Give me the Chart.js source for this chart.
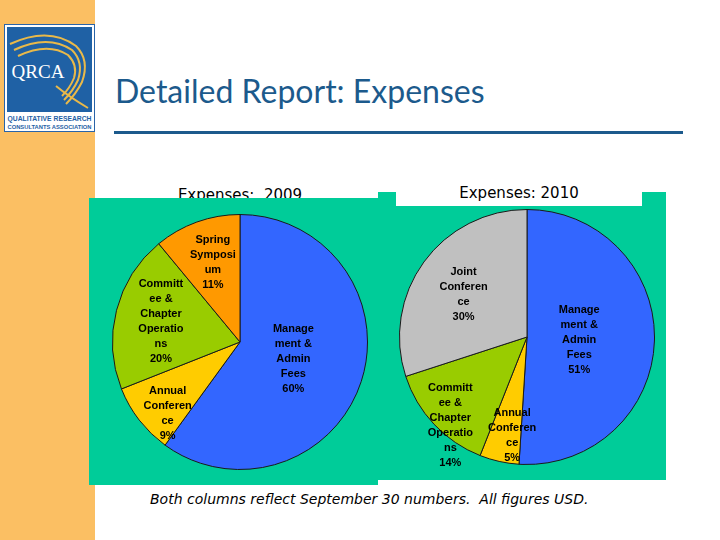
<!DOCTYPE html>
<html>
<head>
<meta charset="utf-8">
<script src="https://cdn.jsdelivr.net/npm/chart.js"></script>
<style>
  body { margin: 0; width: 720px; height: 540px; position: relative; overflow: hidden; background: #fff; font-family: "DejaVu Sans", sans-serif; }
  #strip { position: absolute; left: 0; top: 0; width: 95px; height: 540px; background: #fbbf63; }
  #logo { position: absolute; left: 4px; top: 24px; }
  #title { position: absolute; left: 115px; top: 75px; font: 32px/32px Lato, sans-serif; color: #1c5a8c; white-space: pre; }
  #rule { position: absolute; left: 114px; top: 131px; width: 569px; height: 3px; background: #1c5a8c; }
  .ptitle { position: absolute; font: 15px/15px "DejaVu Sans", sans-serif; color: #000; white-space: pre; text-align: center; width: 240px; }
  #t2009 { left: 120px; top: 188px; }
  #t2010 { left: 399px; top: 186px; }
  .panel { position: absolute; background: #00cc99; }
  #panel1 { left: 89px; top: 198px; width: 289px; height: 287px; }
  #panel2 { left: 378px; top: 192px; width: 288px; height: 288px; }
  #box2010 { position: absolute; left: 396px; top: 192px; width: 246px; height: 14px; background: #fff; }
  canvas { position: absolute; }
  #pie2009 { left: 105px; top: 207px; }
  #pie2010 { left: 392px; top: 202px; }
  #note { position: absolute; left: 150px; top: 492px; font: italic 14px/14px "DejaVu Sans", sans-serif; color: #000; white-space: pre; }
</style>
</head>
<body>
<div id="strip"></div>
<svg id="logo" width="92" height="110" viewBox="0 0 92 110">
  <rect x="0.5" y="0.5" width="90" height="107" fill="#fff" stroke="#2a64a8" stroke-width="1"/>
  <rect x="3" y="3" width="85" height="85" fill="#1f61a5"/>
  <g fill="none" stroke="#e9b949" stroke-width="2">
    <path d="M6 20 Q45 2 72 22 Q86 36 78 58 Q72 70 62 80"/>
    <path d="M10 26 Q44 10 68 26 Q80 38 74 56 Q69 67 60 76"/>
    <path d="M14 32 Q44 18 64 31 Q74 41 70 54 Q66 64 58 72"/>
    <path d="M52 62 Q64 72 84 84"/>
  </g>
  <text x="34" y="54" font-family="Liberation Serif, serif" font-size="19" fill="#fff" text-anchor="middle">QRCA</text>
  <text x="45.5" y="97" font-family="Liberation Sans Narrow, Liberation Sans, sans-serif" font-size="6.5" font-weight="bold" fill="#1f61a5" text-anchor="middle" textLength="84" lengthAdjust="spacingAndGlyphs">QUALITATIVE RESEARCH</text>
  <text x="45.5" y="105" font-family="Liberation Sans Narrow, Liberation Sans, sans-serif" font-size="6" font-weight="bold" fill="#1f61a5" text-anchor="middle" textLength="84" lengthAdjust="spacingAndGlyphs">CONSULTANTS ASSOCIATION</text>
</svg>
<div id="title">Detailed Report: Expenses</div>
<div id="rule"></div>
<div id="t2009" class="ptitle">Expenses:  2009</div>
<div id="panel1" class="panel"></div>
<div id="panel2" class="panel"></div>
<div id="box2010"></div>
<div id="t2010" class="ptitle">Expenses: 2010</div>
<canvas id="pie2009" width="270" height="270"></canvas>
<canvas id="pie2010" width="270" height="270"></canvas>
<div id="note">Both columns reflect September 30 numbers.  All figures USD.</div>
<script>
"use strict";
const categories2009 = ["Management & Admin Fees", "Annual Conference", "Committee & Chapter Operations", "Spring Symposium"];
const share2009 = [60, 9, 20, 11];
const colors2009 = ["#3366ff", "#ffcc00", "#99cc00", "#ff9900"];

const categories2010 = ["Management & Admin Fees", "Annual Conference", "Committee & Chapter Operations", "Joint Conference"];
const share2010 = [51, 5, 14, 30];
const colors2010 = ["#3366ff", "#ffcc00", "#99cc00", "#c0c0c0"];

// where each slice label sits: fraction of radius, and a nudge in degrees
const labelRadius2009 = [0.44, 0.80, 0.64, 0.66];
const labelShift2009 = [0, -7, 0, 1];
const labelRadius2010 = [0.41, 0.78, 0.92, 0.60];
const labelShift2010 = [1, -4, -6, -2];

// wrap like Excel does: by words, breaking long words where they overflow
function wrapText(ctx, text, maxW) {
    const lines = [];
    let cur = "";
    text.split(" ").forEach(word => {
        const cand = cur ? cur + " " + word : word;
        if (ctx.measureText(cand).width <= maxW) {
            cur = cand;
            return;
        }
        if (cur) lines.push(cur);
        while (ctx.measureText(word).width > maxW) {
            let n = word.length - 1;
            while (n > 1 && ctx.measureText(word.slice(0, n)).width > maxW) n--;
            lines.push(word.slice(0, n));
            word = word.slice(n);
        }
        cur = word;
    });
    if (cur) lines.push(cur);
    return lines;
}

const sliceLabels = {
    id: "sliceLabels",
    afterDatasetsDraw(chart, args, opts) {
        const ctx = chart.ctx;
        const data = chart.data.datasets[0].data;
        const total = data.reduce((a, b) => a + b, 0);
        ctx.save();
        ctx.font = "bold 11px 'Liberation Sans', Arial, sans-serif";
        ctx.fillStyle = "#000";
        ctx.textAlign = "center";
        ctx.textBaseline = "middle";
        chart.getDatasetMeta(0).data.forEach((arc, i) => {
            const p = arc.getProps(["x", "y", "startAngle", "endAngle", "outerRadius"], true);
            const mid = (p.startAngle + p.endAngle) / 2 + opts.shift[i] * Math.PI / 180;
            const r = p.outerRadius * opts.radius[i];
            const lines = wrapText(ctx, chart.data.labels[i], 49.5);
            lines.push(Math.round(data[i] / total * 100) + "%");
            const cx = p.x + Math.cos(mid) * r;
            const top = p.y + Math.sin(mid) * r - (lines.length - 1) * 15 / 2;
            lines.forEach((l, k) => ctx.fillText(l, cx, top + k * 15));
        });
        ctx.restore();
    }
};

function pieMaken(id, labels, values, colors, radius, shift) {
    return new Chart(id, {
        type: "pie",
        data: {
            labels: labels,
            datasets: [{
                data: values,
                backgroundColor: colors,
                borderColor: "#1a1a1a",
                borderWidth: 1
            }]
        },
        options: {
            responsive: false,
            animation: false,
            devicePixelRatio: 1,
            layout: { padding: 7 },
            plugins: {
                legend: { display: false },
                tooltip: { enabled: false },
                sliceLabels: { radius: radius, shift: shift }
            }
        },
        plugins: [sliceLabels]
    });
}

pieMaken("pie2009", categories2009, share2009, colors2009, labelRadius2009, labelShift2009);
pieMaken("pie2010", categories2010, share2010, colors2010, labelRadius2010, labelShift2010);
</script>
</body>
</html>
